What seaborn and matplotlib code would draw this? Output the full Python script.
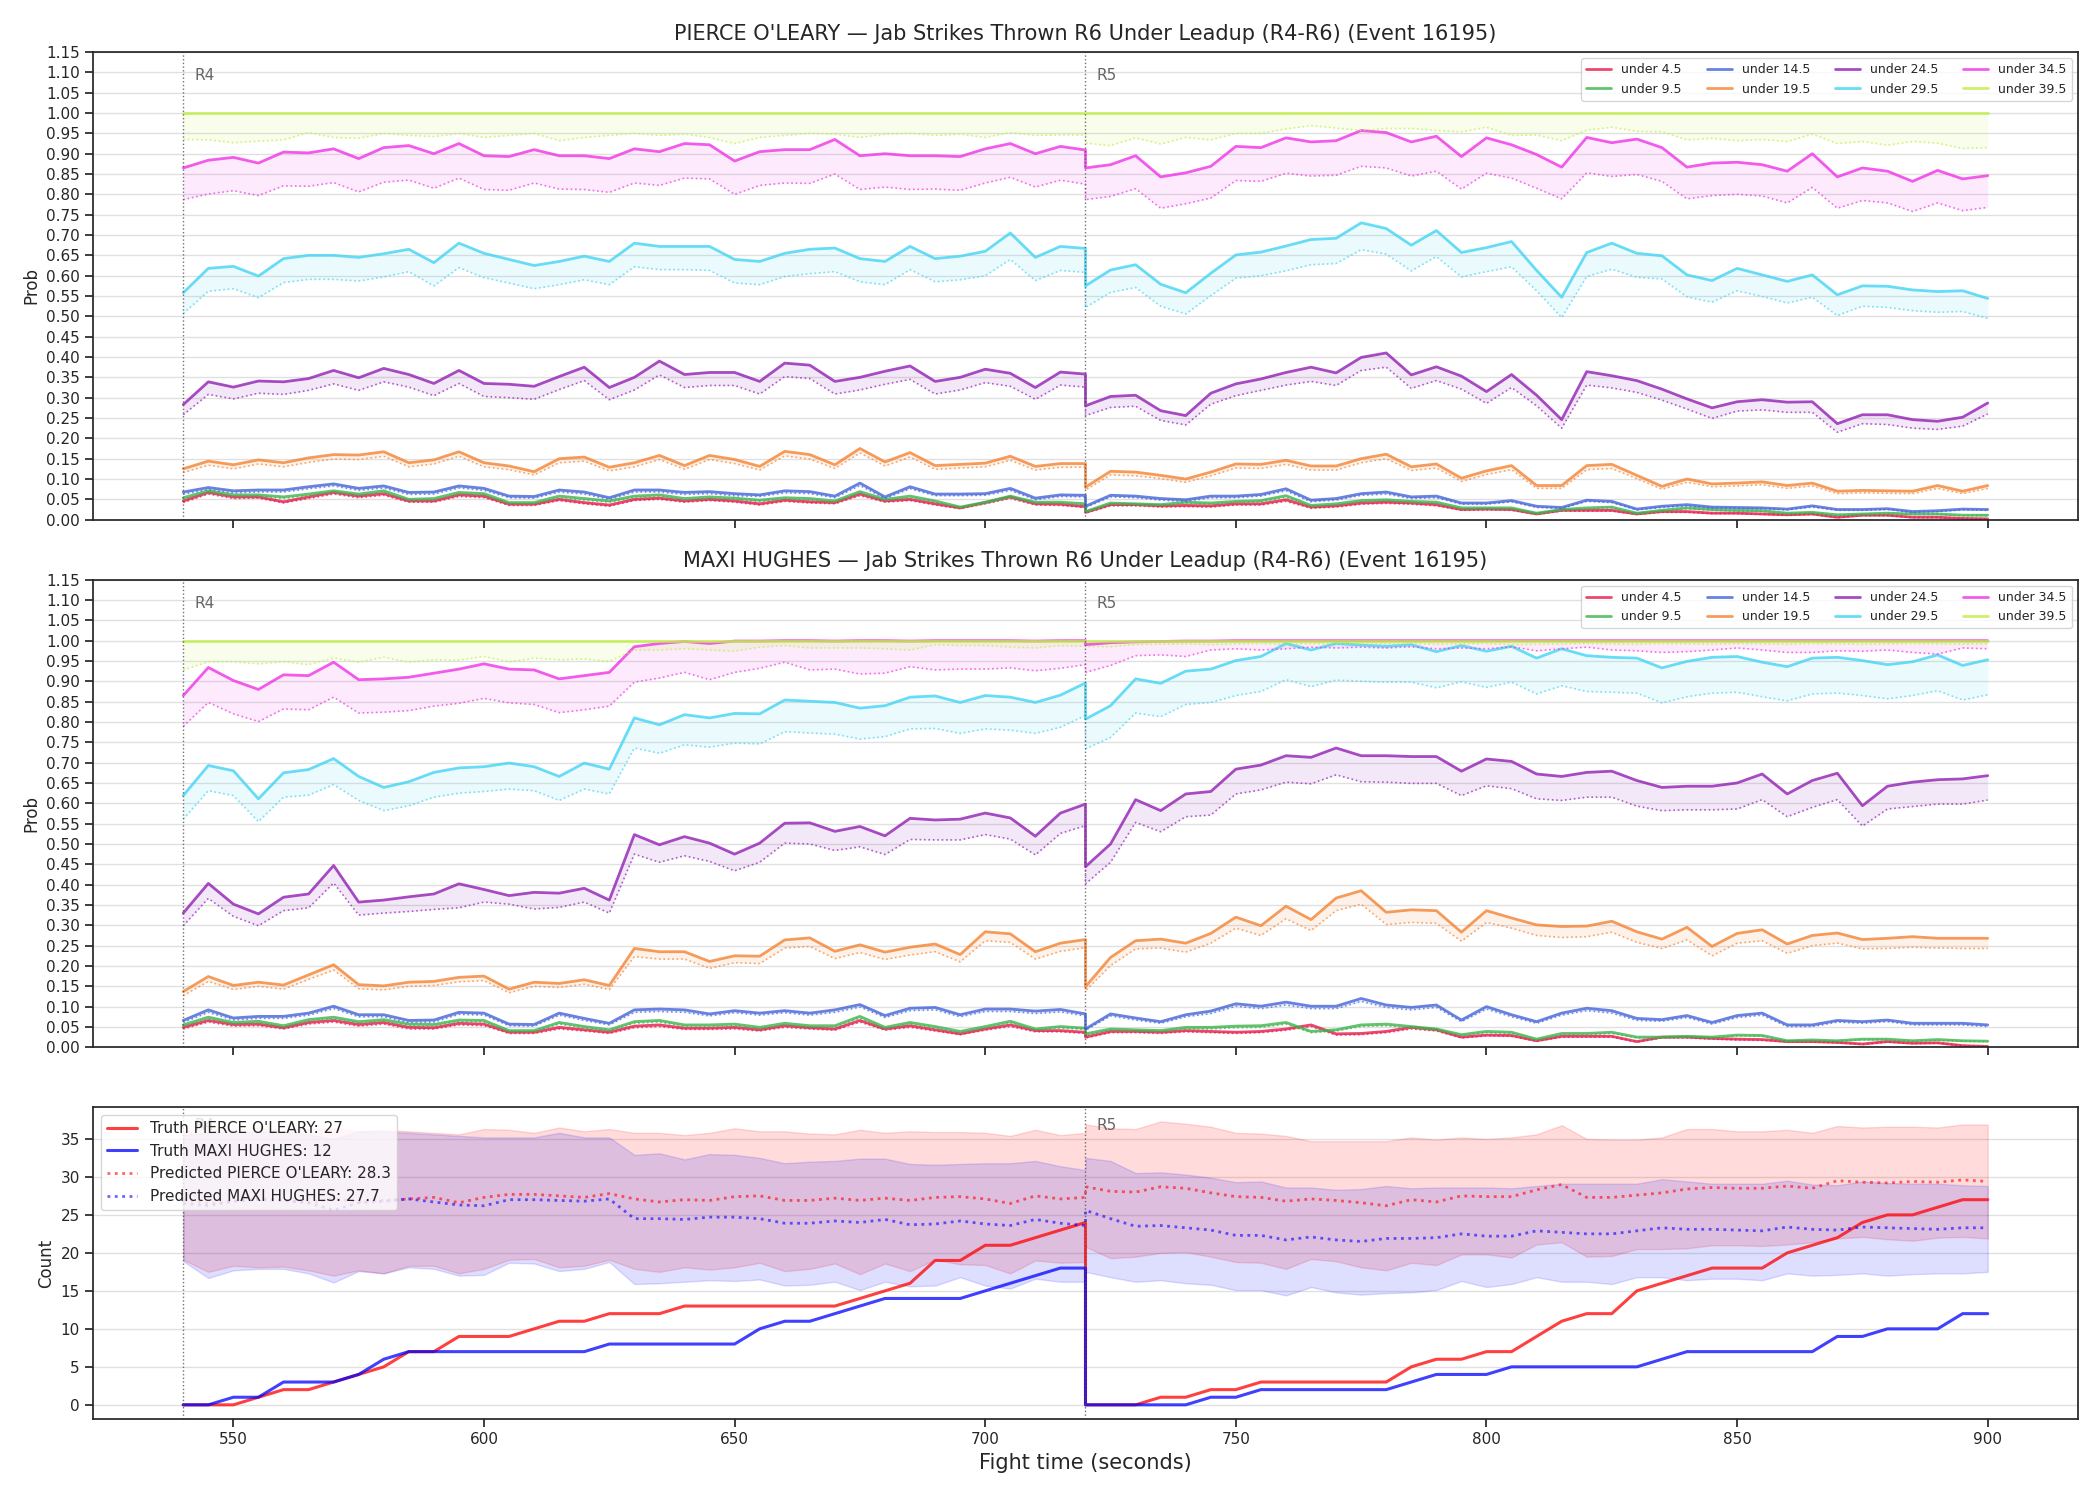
import numpy as np
import seaborn as sns
import matplotlib.pyplot as plt
import matplotlib.transforms as mtransforms

# time grid: R4 ends at 720, R5 starts again at 720
t_r4 = list(range(540, 721, 5))
t_r5 = list(range(720, 901, 5))
times = t_r4 + t_r5

thresholds = ["under 4.5", "under 9.5", "under 14.5", "under 19.5",
              "under 24.5", "under 29.5", "under 34.5", "under 39.5"]
colors = ["#e6194B", "#3cb44b", "#4363d8", "#f58231",
          "#911eb4", "#42d4f4", "#f032e6", "#bfef45"]

# ---- PIERCE O'LEARY, probabilities in percent (solid line / dotted lower line)
po_u45 = [4.6,6.7,5.6,5.6,4.4,5.6,6.7,5.8,6.4,4.6,4.6,6.1,5.8,3.8,3.8,5.0,4.2,3.6,5.0,5.3,4.6,5.0,4.6,3.9,4.8,4.4,4.2,6.3,4.6,5.0,3.9,2.9,4.2,5.6,3.9,3.8,3.2,
          1.8,3.7,3.7,3.4,3.5,3.4,3.9,3.9,4.9,3.1,3.4,4.1,4.3,4.1,3.7,2.5,2.6,2.5,1.4,2.3,2.3,2.3,1.4,2.0,2.0,1.6,1.6,1.4,1.2,1.4,0.6,1.1,1.1,0.6,0.6,0.3,0.2]
po_u45_lo = [4.2,6.3,5.2,5.3,4.1,5.2,6.3,5.4,6.0,4.3,4.3,5.7,5.4,3.5,3.5,4.7,3.9,3.3,4.7,5.0,4.3,4.7,4.3,3.6,4.5,4.1,3.9,5.9,4.3,4.7,3.6,2.7,3.9,5.2,3.6,3.5,3.0,
             1.6,3.4,3.4,3.1,3.2,3.1,3.6,3.6,4.5,2.8,3.1,3.8,4.0,3.8,3.4,2.3,2.4,2.3,1.3,2.1,2.1,2.1,1.3,1.8,1.8,1.5,1.5,1.3,1.1,1.3,0.5,1.0,1.0,0.5,0.5,0.3,0.2]
po_u95 = [5.4,7.1,6.1,6.1,5.6,6.3,7.1,6.3,7.1,5.0,5.2,6.7,6.4,4.2,4.2,5.8,5.2,4.6,5.8,6.1,5.2,5.6,5.3,4.8,5.4,5.2,4.6,6.9,5.0,5.8,4.6,3.1,4.3,5.8,4.3,4.3,3.9,
          2.0,4.1,3.9,3.7,4.3,4.1,4.5,4.7,5.9,3.5,3.9,4.7,4.9,4.5,4.3,2.9,2.9,2.9,1.6,2.5,2.9,3.1,1.6,2.3,2.9,2.5,2.3,2.2,1.6,1.8,1.2,1.4,1.6,1.4,1.4,1.1,1.1]
po_u95_lo = [5.0,6.7,5.7,5.8,5.2,5.9,6.7,5.9,6.7,4.7,4.8,6.3,6.0,3.9,3.9,5.4,4.8,4.3,5.4,5.7,4.8,5.2,4.9,4.5,5.0,4.8,4.3,6.5,4.7,5.4,4.3,2.9,4.0,5.4,4.0,4.0,3.6,
             1.8,3.8,3.6,3.4,4.0,3.8,4.2,4.4,5.5,3.2,3.6,4.4,4.6,4.2,4.0,2.7,2.7,2.7,1.5,2.3,2.7,2.9,1.5,2.1,2.7,2.3,2.1,2.0,1.5,1.7,1.1,1.3,1.5,1.3,1.3,1.0,1.0]
po_u145 = [6.8,7.9,7.1,7.3,7.3,8.1,8.8,7.7,8.3,6.7,6.8,8.3,7.7,5.8,5.7,7.3,6.8,5.4,7.3,7.3,6.7,6.9,6.4,6.1,7.1,6.9,5.8,9.0,5.6,8.1,6.3,6.3,6.4,7.7,5.3,6.1,6.0,
           3.3,6.0,5.8,5.2,4.9,5.8,5.8,6.2,7.6,4.8,5.2,6.4,6.8,5.6,5.8,4.1,4.1,4.7,3.3,3.0,4.8,4.5,2.6,3.3,3.7,3.1,3.0,2.9,2.6,3.4,2.5,2.5,2.7,2.0,2.2,2.6,2.5]
po_u145_lo = [6.3,7.4,6.6,6.8,6.8,7.6,8.3,7.2,7.8,6.2,6.3,7.8,7.2,5.4,5.3,6.8,6.3,5.0,6.8,6.8,6.2,6.4,5.9,5.7,6.6,6.4,5.4,8.4,5.2,7.6,5.9,5.9,6.0,7.2,4.9,5.7,5.6,
              3.0,5.6,5.4,4.8,4.5,5.4,5.4,5.8,7.1,4.4,4.8,6.0,6.3,5.2,5.4,3.8,3.8,4.4,3.0,2.8,4.5,4.2,2.4,3.0,3.4,2.9,2.8,2.7,2.4,3.1,2.3,2.3,2.5,1.8,2.0,2.4,2.3]
po_u195 = [12.5,14.4,13.5,14.7,14.0,15.2,16.0,15.9,16.7,14.0,14.7,16.7,14.0,13.2,11.8,15.0,15.4,12.9,14.0,15.8,13.3,15.8,14.8,13.1,16.8,16.0,13.5,17.5,14.2,16.5,13.3,13.6,13.9,15.6,13.1,13.8,13.8,
           8.0,11.9,11.7,10.9,10.0,11.7,13.7,13.6,14.6,13.2,13.2,15.0,16.1,13.0,13.7,10.2,12.0,13.3,8.4,8.4,13.3,13.6,10.9,8.2,10.0,8.8,9.0,9.3,8.4,9.0,7.0,7.2,7.1,7.0,8.4,7.0,8.4]
po_u195_lo = [11.6,13.4,12.5,13.7,13.0,14.1,14.9,14.8,15.6,13.0,13.7,15.6,13.0,12.3,11.0,14.0,14.4,12.0,13.0,14.8,12.4,14.8,13.8,12.2,15.7,14.9,12.6,16.4,13.2,15.4,12.4,12.7,13.0,14.6,12.2,12.9,12.9,
              7.3,11.0,10.8,10.1,9.2,10.8,12.7,12.6,13.6,12.2,12.2,14.0,15.0,12.1,12.7,9.4,11.1,12.3,7.7,7.7,12.3,12.6,10.1,7.5,9.2,8.1,8.3,8.6,7.7,8.3,6.4,6.6,6.5,6.4,7.7,6.4,7.7]
po_u245 = [28.3,33.9,32.6,34.1,33.9,34.7,36.7,34.9,37.2,35.7,33.5,36.7,33.5,33.3,32.8,35.2,37.5,32.5,35.0,39.0,35.7,36.2,36.2,34.0,38.5,38.0,34.0,35.0,36.5,37.8,34.0,35.0,37.0,36.0,32.5,36.3,35.8,
           28.0,30.3,30.6,26.8,25.6,31.1,33.4,34.6,36.2,37.5,36.1,39.9,41.0,35.6,37.6,35.3,31.5,35.7,30.6,24.6,36.4,35.4,34.2,32.1,29.7,27.5,29.0,29.5,28.9,29.0,23.6,25.8,25.8,24.6,24.2,25.2,28.7]
po_u245_lo = [25.8,30.8,29.7,31.1,30.8,31.8,33.4,31.8,33.9,32.6,30.5,33.5,30.3,30.0,29.6,32.0,34.2,29.5,31.9,35.6,32.5,33.0,33.0,30.9,35.2,34.7,30.9,31.9,33.3,34.5,30.9,31.9,33.7,32.8,29.6,33.1,32.6,
              25.6,27.6,27.9,24.4,23.3,28.4,30.5,31.8,33.1,34.0,33.0,36.7,37.5,32.3,34.2,32.1,28.6,32.5,28.0,22.5,33.1,32.4,31.3,29.4,27.2,24.9,26.7,27.0,26.4,26.4,21.5,23.6,23.4,22.5,22.2,23.0,26.0]
po_u295 = [55.8,61.8,62.3,59.9,64.2,65.0,65.0,64.5,65.4,66.5,63.2,68.0,65.5,64.0,62.5,63.5,64.8,63.5,68.0,67.2,67.2,67.2,64.0,63.5,65.5,66.5,66.8,64.2,63.5,67.2,64.2,64.8,66.0,70.5,64.5,67.2,66.7,
           57.5,61.4,62.7,57.9,55.8,60.6,65.1,65.8,67.3,68.9,69.2,73.0,71.6,67.5,71.1,65.7,66.9,68.4,61.3,54.7,65.7,68.0,65.5,64.9,60.2,58.8,61.8,60.2,58.6,60.2,55.3,57.5,57.4,56.5,56.1,56.3,54.4]
po_u295_lo = [50.7,56.2,56.8,54.6,58.3,59.1,59.1,58.7,59.7,61.0,57.5,62.0,59.5,58.2,56.8,57.8,59.0,57.8,62.2,61.5,61.5,61.3,58.2,57.8,59.8,60.5,61.0,58.5,57.8,61.5,58.5,59.0,60.0,64.0,58.8,61.3,60.8,
              52.2,55.9,57.1,52.5,50.6,55.1,59.4,60.0,61.2,62.7,63.0,66.4,65.3,61.2,64.7,59.7,61.0,62.2,56.3,49.7,59.8,61.6,59.6,59.2,54.8,53.5,56.3,54.9,53.3,54.7,50.2,52.5,52.2,51.4,51.0,51.2,49.5]
po_u345 = [86.5,88.4,89.1,87.7,90.4,90.2,91.2,88.8,91.5,92.0,90.0,92.5,89.5,89.3,91.0,89.5,89.5,88.8,91.2,90.5,92.5,92.2,88.2,90.5,91.0,91.0,93.5,89.5,90.0,89.5,89.5,89.3,91.2,92.5,90.0,91.8,90.9,
           86.5,87.3,89.5,84.3,85.3,86.9,91.8,91.5,93.9,92.9,93.2,95.7,95.2,92.9,94.3,89.3,93.9,92.2,89.8,86.7,94.0,92.7,93.6,91.5,86.7,87.7,87.9,87.3,85.7,90.0,84.3,86.5,85.7,83.2,85.9,83.8,84.6]
po_u345_lo = [78.7,80.1,80.9,79.7,82.1,82.0,82.9,80.6,83.0,83.5,81.5,84.0,81.2,81.0,82.8,81.3,81.2,80.5,82.8,82.2,84.0,83.8,80.0,82.2,82.8,82.7,85.0,81.2,81.8,81.2,81.3,81.0,82.8,84.2,81.8,83.5,82.5,
              78.7,79.5,81.4,76.6,77.7,79.1,83.4,83.2,85.2,84.5,84.7,86.9,86.5,84.5,85.7,81.3,85.2,84.0,81.5,78.9,85.3,84.4,84.9,83.2,78.9,79.7,80.0,79.6,77.9,81.7,76.6,78.5,77.9,75.8,77.9,76.0,76.8]
po_u395 = [100.0] * 74
po_u395_lo = [93.5,93.4,92.7,93.1,93.4,95.2,94.0,93.8,95.0,94.5,94.2,95.0,94.0,94.5,95.0,93.2,94.0,94.5,95.0,94.5,94.8,94.0,92.5,94.0,94.5,95.0,94.8,94.0,94.8,95.0,94.5,94.8,94.0,95.2,94.5,94.6,94.6,
              92.6,92.0,93.9,92.4,94.0,93.4,95.0,95.0,96.1,96.9,96.3,95.7,96.2,96.2,95.7,95.4,96.5,94.5,94.6,93.2,95.8,96.5,95.5,95.4,93.4,93.8,93.2,93.5,93.0,94.8,92.5,93.0,92.1,93.0,92.6,91.3,91.5]

# ---- MAXI HUGHES
mh_u45 = [4.9,6.6,5.6,5.7,4.8,6.1,6.6,5.6,6.1,4.9,4.8,5.9,5.7,3.7,3.7,4.9,4.3,3.7,5.2,5.5,4.7,4.7,4.9,4.3,5.3,4.8,4.5,6.6,4.5,5.3,4.3,3.3,4.5,5.5,4.1,4.1,3.7,
          2.5,3.9,3.9,3.7,4.1,3.9,3.7,3.9,4.5,5.5,3.3,3.4,3.9,4.9,4.3,2.5,3.0,2.9,1.6,2.7,2.7,2.7,1.4,2.5,2.5,2.2,2.0,1.9,1.4,1.4,1.2,0.8,1.4,1.0,1.1,0.4,0.2]
mh_u45_lo = [4.5,6.2,5.2,5.3,4.5,5.7,6.2,5.2,5.7,4.5,4.5,5.5,5.3,3.4,3.4,4.5,4.0,3.4,4.8,5.1,4.4,4.4,4.5,4.0,4.9,4.5,4.2,6.2,4.2,4.9,4.0,3.1,4.2,5.1,3.8,3.8,3.4,
             2.3,3.6,3.6,3.4,3.8,3.6,3.4,3.6,4.2,5.1,3.0,3.1,3.6,4.5,4.0,2.3,2.8,2.7,1.5,2.5,2.5,2.5,1.3,2.3,2.3,2.0,1.8,1.7,1.3,1.3,1.1,0.7,1.3,0.9,1.0,0.4,0.2]
mh_u95 = [5.5,7.4,6.1,6.4,5.3,6.8,7.4,6.3,6.8,5.7,5.6,6.7,6.6,4.1,4.1,6.1,5.1,4.3,6.3,6.6,5.5,5.5,5.7,4.9,5.9,5.3,5.3,7.6,4.9,6.1,5.1,3.9,5.1,6.4,4.5,5.1,4.7,
          3.3,4.5,4.3,4.1,4.9,4.9,5.2,5.3,6.1,3.9,4.3,5.5,5.7,5.1,4.5,3.1,3.9,3.7,2.0,3.4,3.4,3.7,2.5,2.5,2.7,2.5,3.0,2.9,1.6,1.8,1.6,2.0,2.0,1.6,1.9,1.6,1.5]
mh_u95_lo = [5.1,7.0,5.7,6.0,4.9,6.4,7.0,5.9,6.4,5.3,5.2,6.3,6.2,3.8,3.8,5.7,4.7,4.0,5.9,6.2,5.1,5.1,5.3,4.5,5.5,4.9,4.9,7.2,4.5,5.7,4.7,3.6,4.7,6.0,4.2,4.7,4.4,
             3.0,4.2,4.0,3.8,4.5,4.5,4.8,4.9,5.7,3.6,4.0,5.1,5.3,4.7,4.2,2.9,3.6,3.4,1.8,3.1,3.1,3.4,2.3,2.3,2.5,2.3,2.8,2.7,1.5,1.7,1.5,1.8,1.8,1.5,1.7,1.5,1.4]
mh_u145 = [6.6,9.2,7.2,7.6,7.6,8.4,10.1,8.0,8.0,6.6,6.7,8.6,8.4,5.7,5.6,8.4,7.1,5.9,9.2,9.4,9.2,8.2,9.0,8.4,9.0,8.4,9.2,10.5,7.8,9.6,9.8,8.0,9.4,9.4,8.9,9.3,8.2,
           4.5,8.2,7.2,6.3,8.0,8.9,10.7,10.1,11.1,10.1,10.1,12.0,10.4,9.8,10.4,6.7,10.0,8.0,6.3,8.4,9.6,9.0,7.1,6.8,7.8,6.1,7.8,8.4,5.5,5.5,6.6,6.3,6.7,5.9,5.9,5.9,5.5]
mh_u145_lo = [6.1,8.6,6.7,7.1,7.1,7.9,9.5,7.5,7.5,6.1,6.2,8.1,7.9,5.3,5.2,7.9,6.6,5.5,8.6,8.8,8.6,7.7,8.5,7.9,8.5,7.9,8.6,9.9,7.3,9.0,9.2,7.5,8.8,8.8,8.3,8.7,7.7,
              4.2,7.7,6.7,5.9,7.5,8.3,10.1,9.5,10.4,9.5,9.5,11.3,9.8,9.2,9.8,6.3,9.4,7.5,5.9,7.9,9.0,8.4,6.6,6.4,7.3,5.7,7.3,7.9,5.1,5.1,6.2,5.9,6.3,5.5,5.5,5.5,5.1]
mh_u195 = [13.7,17.4,15.2,16.0,15.3,17.8,20.3,15.4,15.1,16.0,16.2,17.2,17.5,14.3,16.0,15.7,16.6,15.2,24.3,23.5,23.5,21.1,22.5,22.4,26.4,26.9,23.6,25.2,23.4,24.6,25.4,22.8,28.4,27.9,23.5,25.6,26.5,
           14.9,22.1,26.2,26.6,25.6,28.0,32.0,29.9,34.7,31.4,36.7,38.5,33.2,33.8,33.6,28.3,33.6,31.8,30.1,29.7,29.8,31.0,28.4,26.6,29.5,24.8,28.0,28.9,25.4,27.5,28.1,26.5,26.8,27.2,26.8,26.8,26.8]
mh_u195_lo = [12.7,16.2,14.2,15.0,14.3,16.7,19.0,14.4,14.1,15.0,15.2,16.1,16.4,13.4,15.0,14.7,15.5,14.2,22.3,21.7,21.7,19.4,20.8,20.6,24.4,24.8,21.8,23.3,21.6,22.7,23.5,21.0,26.2,25.8,21.7,23.6,24.5,
              13.9,20.1,24.2,24.4,23.4,25.6,29.3,27.5,31.6,28.7,33.6,35.2,30.2,30.7,30.5,26.1,30.7,29.3,27.5,27.0,27.2,28.3,25.8,24.3,26.4,22.5,25.6,26.2,23.1,25.0,25.6,24.2,24.3,24.6,24.4,24.3,24.3]
mh_u245 = [33.0,40.3,35.2,32.8,36.9,37.7,44.7,35.7,36.2,37.0,37.7,40.2,38.8,37.3,38.1,37.9,39.1,36.2,52.3,49.8,51.8,50.2,47.5,50.2,55.1,55.2,53.1,54.3,52.0,56.3,55.9,56.1,57.6,56.4,51.9,57.6,59.8,
           44.4,50.0,60.9,58.2,62.3,62.9,68.4,69.4,71.7,71.3,73.6,71.7,71.7,71.5,71.5,67.9,70.9,70.3,67.2,66.6,67.6,67.9,65.6,63.9,64.2,64.2,65.0,67.2,62.3,65.6,67.4,59.4,64.2,65.2,65.8,66.0,66.8]
mh_u245_lo = [29.9,36.6,32.2,29.9,33.6,34.3,40.4,32.5,33.0,33.4,33.9,34.3,35.7,35.2,34.0,34.4,35.7,33.0,47.5,45.5,47.1,45.7,43.4,45.5,50.2,50.0,48.4,49.3,47.4,51.1,51.0,51.0,52.3,51.2,47.3,52.6,54.5,
              40.2,45.5,55.3,53.0,56.7,57.1,62.3,63.3,65.2,64.8,67.0,65.3,65.2,64.9,64.9,61.9,64.3,63.6,61.1,60.7,61.5,61.5,59.3,58.2,58.4,58.4,58.6,60.9,56.7,59.0,60.9,54.4,58.6,59.2,59.8,59.8,60.8]
mh_u295 = [61.9,69.3,68.0,61.1,67.5,68.3,71.0,66.6,63.9,65.3,67.6,68.7,69.0,69.9,69.0,66.6,69.9,68.4,81.0,79.3,81.8,81.0,82.1,82.0,85.4,85.1,84.8,83.4,84.0,86.1,86.4,84.8,86.5,86.1,84.8,86.6,89.6,
           80.7,84.0,90.6,89.5,92.5,93.0,95.1,96.1,99.3,97.7,99.3,98.9,98.6,99.0,97.3,98.8,97.4,98.6,95.7,98.0,96.3,95.9,95.7,93.3,94.9,95.9,96.1,94.7,93.6,95.7,95.9,95.1,94.1,94.8,96.5,93.9,95.3]
mh_u295_lo = [56.1,63.1,61.9,55.5,61.5,62.0,64.6,60.7,58.2,59.4,61.5,62.5,62.9,63.5,63.1,60.7,63.5,62.3,73.6,72.3,74.4,73.8,74.8,74.6,77.6,77.3,77.0,75.8,76.4,78.3,78.4,77.2,78.3,78.0,77.2,78.7,81.6,
              73.4,76.2,82.2,81.3,84.3,84.8,86.5,87.5,90.4,88.7,90.3,90.0,89.8,89.8,88.4,89.9,88.5,89.8,86.9,88.9,87.5,87.3,87.1,84.7,86.2,87.1,87.3,86.2,85.2,86.9,87.1,86.5,85.7,86.5,87.7,85.4,86.7]
mh_u345 = [86.5,93.4,90.2,88.0,91.6,91.4,94.7,90.4,90.6,91.0,92.0,93.0,94.3,93.0,92.8,90.6,91.4,92.2,98.5,99.3,99.8,99.3,99.9,99.9,100.0,100.0,99.9,100.0,100.0,99.9,100.0,100.0,100.0,100.0,99.9,100.0,100.0,
           99.0,99.5,99.7,99.8,99.9,99.9,100.0,100.0,100.0,100.0,100.0,100.0,100.0,100.0,100.0,100.0,100.0,100.0,100.0,100.0,100.0,100.0,100.0,100.0,100.0,100.0,100.0,100.0,100.0,100.0,100.0,100.0,100.0,100.0,100.0,100.0,100.0]
mh_u345_lo = [78.9,84.8,82.0,80.1,83.2,83.0,86.1,82.2,82.4,82.8,83.9,84.6,85.8,84.7,84.3,82.3,83.0,83.9,89.8,90.8,92.2,90.4,92.2,93.2,94.7,92.8,93.0,91.8,92.0,93.6,92.8,93.0,93.0,93.3,92.6,93.2,94.1,
              92.2,93.9,96.3,96.5,96.1,97.7,98.0,97.7,98.0,98.4,98.2,98.4,98.2,98.5,98.0,98.2,98.0,98.5,97.5,98.0,98.4,97.7,97.5,97.1,97.3,97.7,98.2,97.7,97.1,97.1,97.5,97.4,97.7,97.1,96.7,98.2,98.0]
mh_u395 = [100.0] * 74
mh_u395_lo = [92.8,94.8,94.8,94.3,94.8,94.1,95.7,94.7,95.9,94.7,95.3,95.2,96.1,94.8,95.7,95.3,95.5,94.9,97.7,97.7,98.0,97.7,97.4,98.4,98.8,98.2,98.2,98.2,98.0,97.7,99.0,98.8,98.8,98.4,98.2,98.8,98.6,
              98.6,98.5,99.0,99.1,99.2,99.0,99.2,99.3,99.1,99.3,99.2,99.3,99.2,99.3,99.1,99.2,99.3,99.0,99.1,99.2,99.3,99.2,99.1,99.3,99.2,99.1,99.3,99.2,99.1,99.3,99.2,99.1,99.2,99.3,99.2,99.1,99.2]

# ---- cumulative counts (bottom panel)
truth_po = [0,0,0,1,2,2,3,4,5,7,7,9,9,9,10,11,11,12,12,12,13,13,13,13,13,13,13,14,15,16,19,19,21,21,22,23,24,
            0,0,0,1,1,2,2,3,3,3,3,3,3,5,6,6,7,7,9,11,12,12,15,16,17,18,18,18,20,21,22,24,25,25,26,27,27]
truth_mh = [0,0,1,1,3,3,3,4,6,7,7,7,7,7,7,7,7,8,8,8,8,8,8,10,11,11,12,13,14,14,14,14,15,16,17,18,18,
            0,0,0,0,0,1,1,2,2,2,2,2,2,3,4,4,4,5,5,5,5,5,5,6,7,7,7,7,7,7,9,9,10,10,10,12,12]
pred_po = [27.0,26.5,26.8,27.2,26.9,26.6,27.1,26.7,26.9,27.1,27.3,26.6,27.3,27.7,27.7,27.5,27.3,27.8,27.1,26.7,27.0,26.9,27.4,27.5,26.9,26.9,27.2,26.9,27.2,26.9,27.3,27.4,27.1,26.5,27.5,27.1,27.3,
           28.7,28.1,28.0,28.7,28.5,27.9,27.4,27.3,26.8,27.1,26.9,26.6,26.2,27.0,26.7,27.5,27.4,27.4,28.3,29.0,27.3,27.3,27.6,27.9,28.4,28.6,28.5,28.5,28.8,28.5,29.5,29.3,29.2,29.4,29.3,29.6,29.4]
pred_mh = [26.5,26.2,26.8,27.0,26.9,26.6,25.6,26.6,26.8,27.1,26.7,26.3,26.2,27.0,27.0,26.9,26.8,27.1,24.5,24.5,24.4,24.7,24.7,24.5,23.9,23.9,24.2,24.0,24.4,23.7,23.8,24.2,23.8,23.6,24.4,23.9,23.6,
           25.6,24.5,23.5,23.6,23.3,23.0,22.3,22.3,21.7,22.1,21.7,21.5,21.9,21.9,22.0,22.5,22.2,22.2,22.9,22.7,22.5,22.5,22.9,23.3,23.1,23.1,23.0,22.9,23.4,23.1,23.0,23.4,23.3,23.2,23.1,23.3,23.3]
po_hi = [36.0,36.4,36.2,36.5,36.1,36.3,36.4,36.0,36.2,36.0,35.8,35.6,36.3,36.2,35.8,36.5,36.0,36.3,35.8,35.8,35.5,35.8,36.4,36.0,36.0,35.7,35.6,36.2,35.8,36.0,35.9,35.9,35.8,35.4,36.2,35.5,35.8,
         36.9,36.4,36.3,37.3,37.0,36.6,35.8,35.7,35.4,34.7,34.7,34.7,34.7,35.2,34.9,35.2,35.0,35.2,35.6,36.8,35.0,34.9,34.9,35.2,36.3,36.3,36.0,36.0,36.2,35.8,36.7,36.5,36.6,36.6,36.5,36.9,36.9]
po_lo = [19.1,17.5,18.3,18.1,18.2,17.7,17.0,17.7,17.3,18.3,18.3,17.3,17.9,19.1,19.2,18.1,18.3,19.1,17.9,17.5,18.1,17.8,18.1,18.7,17.6,17.9,18.6,17.2,18.6,17.6,19.1,18.5,18.4,17.3,19.0,18.7,18.8,
         20.8,19.3,19.5,20.0,20.1,19.5,18.8,18.7,17.9,19.2,18.9,18.1,17.7,18.7,18.4,19.8,19.8,19.4,21.1,21.4,19.5,19.6,20.5,20.5,20.6,21.0,21.0,20.9,21.1,21.4,21.9,22.1,21.8,21.6,22.0,22.1,21.9]
mh_hi = [35.5,35.8,36.0,35.9,36.0,35.6,35.0,36.0,36.0,35.8,35.6,35.4,35.2,35.2,35.2,35.8,35.2,35.2,32.9,33.1,32.3,33.0,32.9,32.5,31.8,32.0,32.1,32.4,32.4,31.7,31.6,31.7,31.8,31.8,32.1,31.4,30.9,
         32.5,32.1,30.5,30.6,30.3,29.9,29.3,29.4,28.6,28.6,28.3,28.4,28.8,28.5,28.6,28.6,28.6,28.5,28.8,29.1,29.1,29.1,29.1,29.7,29.4,29.1,29.1,29.1,29.5,29.0,28.9,29.4,29.2,29.1,29.1,28.9,28.8]
mh_lo = [18.9,16.7,17.7,17.9,17.9,17.3,16.1,17.6,17.3,18.1,17.9,17.0,17.1,18.7,18.6,17.6,17.9,18.8,15.9,16.0,16.2,16.4,16.3,16.5,15.7,15.8,16.2,15.1,16.2,15.6,15.7,16.8,15.7,15.3,16.6,16.2,16.2,
         17.5,16.8,16.2,16.4,16.0,15.8,15.1,15.1,14.4,15.5,14.8,14.5,14.7,14.8,15.1,16.3,15.5,15.9,16.8,16.2,16.2,15.9,16.8,16.8,16.4,16.6,16.6,16.4,17.3,17.0,17.1,17.3,17.0,17.2,17.3,17.3,17.5]
pred_final_po = 28.3
pred_final_mh = 27.7

po_lines = [po_u45, po_u95, po_u145, po_u195, po_u245, po_u295, po_u345, po_u395]
po_lows = [po_u45_lo, po_u95_lo, po_u145_lo, po_u195_lo, po_u245_lo, po_u295_lo, po_u345_lo, po_u395_lo]
mh_lines = [mh_u45, mh_u95, mh_u145, mh_u195, mh_u245, mh_u295, mh_u345, mh_u395]
mh_lows = [mh_u45_lo, mh_u95_lo, mh_u145_lo, mh_u195_lo, mh_u245_lo, mh_u295_lo, mh_u345_lo, mh_u395_lo]

sns.set_theme(style="ticks", context="notebook")
plt.rcParams['font.family'] = ['DejaVu Sans']

fig, axes = plt.subplots(3, 1, figsize=(21, 15), dpi=100, sharex=True,
                         gridspec_kw={'height_ratios': [3, 3, 2]})
plt.subplots_adjust(left=0.0443, right=0.9895, top=0.9653, bottom=0.054, hspace=0.1443)


def round_marks(ax, labels):
    trans = mtransforms.blended_transform_factory(ax.transData, ax.transAxes)
    for x, lab in zip([540, 720], ["R4", "R5"]):
        ax.axvline(x, color='0.3', ls=':', lw=1, alpha=0.8)
        if lab in labels:
            ax.text(x + 2.2, 0.965, lab, transform=trans, va='top', ha='left',
                    color='0.4', fontsize=11)


def prob_panel(ax, name, lines, lows):
    handles = []
    for lab, c, y, lo in zip(thresholds, colors, lines, lows):
        y = np.array(y) / 100
        lo = np.array(lo) / 100
        ax.fill_between(times, lo, y, color=c, alpha=0.1, lw=0)
        sns.lineplot(x=times, y=lo, ax=ax, color=c, lw=1.2, ls=':', alpha=0.7,
                     estimator=None, sort=False)
        sns.lineplot(x=times, y=y, ax=ax, color=c, lw=2, alpha=0.8,
                     estimator=None, sort=False)
        handles.append(plt.Line2D([0], [0], color=c, lw=2, alpha=0.8, label=lab))
    round_marks(ax, ["R4", "R5"])
    ax.set_ylim(0, 1.15)
    ax.set_yticks(np.arange(0, 1.151, 0.05))
    ax.set_yticklabels([f"{v:.2f}" for v in np.arange(0, 1.151, 0.05)])
    ax.grid(axis='y', color='0.8', alpha=0.6, lw=1)
    ax.set_ylabel("Prob", fontsize=12)
    ax.set_title(f"{name} — Jab Strikes Thrown R6 Under Leadup (R4-R6) (Event 16195)",
                 fontsize=15, pad=9)
    ax.legend(handles=handles, ncol=4, loc='upper right', fontsize=9, framealpha=0.8)
    ax.tick_params(labelsize=11)


prob_panel(axes[0], "PIERCE O'LEARY", po_lines, po_lows)
prob_panel(axes[1], "MAXI HUGHES", mh_lines, mh_lows)

ax = axes[2]
ax.fill_between(times, po_lo, po_hi, color='red', alpha=0.14)
ax.fill_between(times, mh_lo, mh_hi, color='blue', alpha=0.13)
sns.lineplot(x=times, y=truth_po, ax=ax, color='red', lw=2.2, alpha=0.75,
             estimator=None, sort=False, label=f"Truth PIERCE O'LEARY: {truth_po[-1]}")
sns.lineplot(x=times, y=truth_mh, ax=ax, color='blue', lw=2.2, alpha=0.75,
             estimator=None, sort=False, label=f"Truth MAXI HUGHES: {truth_mh[-1]}")
sns.lineplot(x=times, y=pred_po, ax=ax, color='red', lw=2, ls=':', alpha=0.6,
             estimator=None, sort=False, label=f"Predicted PIERCE O'LEARY: {pred_final_po}")
sns.lineplot(x=times, y=pred_mh, ax=ax, color='blue', lw=2, ls=':', alpha=0.6,
             estimator=None, sort=False, label=f"Predicted MAXI HUGHES: {pred_final_mh}")
round_marks(ax, ["R4", "R5"])
ax.grid(axis='y', color='0.8', alpha=0.6, lw=1)
ax.set_ylabel("Count", fontsize=12)
ax.set_xlabel("Fight time (seconds)", fontsize=15)
ax.legend(loc='upper left', fontsize=11, framealpha=0.8)
ax.tick_params(labelsize=11)

fig.savefig("out.png", dpi=100)
